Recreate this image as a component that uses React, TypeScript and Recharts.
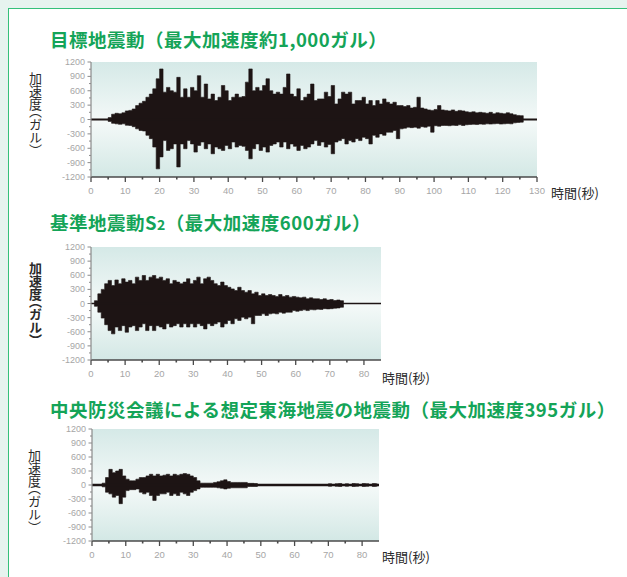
import React from "react";
import { Area, ComposedChart, ReferenceArea, ReferenceLine, XAxis, YAxis } from "recharts";

// acceleration ticks (gal), minor every 150, labelled every 300
const accelTicks = [1200, 1050, 900, 750, 600, 450, 300, 150, 0, -150, -300, -450, -600, -750, -900, -1050, -1200];
const timeTicks130 = Array.from({ length: 27 }, (_, i) => i * 5);
const timeTicks85 = Array.from({ length: 17 }, (_, i) => i * 5);

// 目標地震動: per-second peak (+) and trough (-)
const targetHi = [
  0, 0, 0, 0, 0, 40, 110, 130, 120, 140,
  180, 190, 220, 290, 340, 380, 465, 530, 640, 850,
  1055, 570, 670, 600, 570, 880, 465, 640, 465, 670,
  600, 915, 465, 740, 430, 530, 395, 465, 710, 600,
  395, 465, 530, 465, 480, 780, 1055, 600, 670, 600,
  710, 850, 600, 530, 570, 530, 670, 950, 530, 480,
  640, 395, 465, 530, 740, 395, 430, 430, 570, 480,
  710, 325, 430, 570, 530, 570, 325, 395, 395, 465,
  325, 395, 290, 395, 325, 430, 360, 325, 360, 290,
  290, 270, 290, 240, 255, 465, 240, 220, 200, 190,
  210, 290, 200, 190, 180, 200, 170, 190, 180, 160,
  150, 160, 140, 150, 140, 130, 150, 120, 140, 130,
  120, 140, 120, 100, 85, 80, 0, 0, 0, 0,
];
const targetLo = [
  0, 0, 0, 0, 0, -40, -80, -90, -100, -90,
  -120, -125, -150, -195, -230, -240, -330, -400, -575, -1030,
  -780, -440, -645, -610, -510, -990, -510, -610, -440, -510,
  -680, -540, -470, -610, -510, -715, -575, -610, -645, -540,
  -610, -470, -575, -540, -560, -645, -820, -610, -510, -645,
  -575, -680, -540, -510, -470, -575, -470, -610, -510, -560,
  -645, -540, -610, -575, -510, -440, -540, -470, -575, -520,
  -715, -470, -440, -400, -510, -440, -470, -400, -440, -370,
  -400, -510, -330, -370, -300, -330, -265, -265, -230, -400,
  -195, -180, -160, -170, -160, -180, -150, -160, -140, -265,
  -130, -140, -125, -125, -130, -120, -125, -110, -125, -110,
  -105, -100, -105, -95, -100, -90, -95, -90, -85, -95,
  -90, -85, -90, -70, -60, -55, 0, 0, 0, 0,
];

// 基準地震動S2
const s2Hi = [
  0, 60, 205, 300, 420, 490, 380, 500, 420, 525,
  455, 490, 420, 560, 490, 595, 490, 560, 595, 525,
  560, 490, 525, 420, 490, 455, 420, 455, 525, 420,
  490, 560, 420, 525, 560, 490, 420, 380, 455, 380,
  345, 310, 275, 345, 275, 240, 275, 205, 240, 170,
  205, 170, 190, 170, 150, 190, 150, 170, 135, 150,
  135, 120, 135, 100, 120, 100, 100, 85, 100, 75,
  85, 64, 75, 60, 0, 0, 0, 0, 0, 0,
  0, 0, 0, 0, 0,
];
const s2Lo = [
  0, -60, -185, -310, -450, -575, -645, -500, -575, -470,
  -610, -500, -470, -575, -500, -430, -575, -470, -575, -470,
  -500, -540, -430, -500, -470, -430, -500, -430, -500, -430,
  -500, -430, -470, -540, -430, -470, -430, -395, -500, -430,
  -360, -430, -325, -360, -290, -325, -290, -430, -255, -255,
  -220, -255, -220, -205, -220, -185, -205, -185, -185, -150,
  -165, -150, -135, -150, -130, -135, -120, -125, -110, -115,
  -110, -100, -95, -80, 0, 0, 0, 0, 0, 0,
  0, 0, 0, 0, 0,
];

// 中央防災会議による想定東海地震
const tokaiHi = [
  0, 0, 0, 40, 160, 335, 265, 300, 335, 195,
  125, 90, 90, 125, 160, 160, 195, 230, 195, 230,
  195, 210, 230, 195, 230, 210, 230, 245, 230, 195,
  160, 90, 40, 40, 40, 40, 55, 70, 90, 110,
  75, 55, 55, 55, 55, 55, 35, 35, 30, 0,
  0, 0, 0, 0, 0, 0, 0, 0, 0, 0,
  0, 0, 0, 0, 0, 0, 0, 0, 0, 0,
  25, 0, 25, 30, 0, 25, 0, 30, 25, 0,
  30, 25, 0, 30, 25,
];
const tokaiLo = [
  0, 0, 0, -40, -155, -190, -260, -225, -400, -260,
  -120, -100, -100, -85, -155, -190, -155, -225, -330, -225,
  -190, -190, -155, -225, -190, -225, -155, -190, -225, -155,
  -120, -85, -50, -50, -50, -50, -50, -60, -70, -85,
  -70, -60, -60, -60, -60, -60, -30, -30, -30, 0,
  0, 0, 0, 0, 0, 0, 0, 0, 0, 0,
  0, 0, 0, 0, 0, 0, 0, 0, 0, 0,
  -25, 0, -25, -30, 0, -25, 0, -30, -25, 0,
  -30, -25, 0, -30, -25,
];

const toRows = (hi: number[], lo: number[]) =>
  hi.map((h, i) => ({ t: i + 0.5, r: [lo[i], h] }));

const WAVE = "#1d1414";
const TICK_TEXT = "#a6a6a6";
const JP = '"Noto Sans CJK JP", "Noto Sans", sans-serif';

function TimeTick({ x, y, payload }: any) {
  const major = payload.value % 10 === 0;
  return (
    <g>
      <line x1={x} x2={x} y1={y} y2={y + (major ? 5 : 2.5)} stroke="#4a4a4a" strokeWidth={major ? 1.3 : 1.6} />
      {major && (
        <text x={x} y={y + 17} textAnchor="middle" fill={TICK_TEXT} fontSize={9.5} fontFamily="Liberation Sans, Arial">
          {payload.value}
        </text>
      )}
    </g>
  );
}

function AccelTick({ x, y, payload }: any) {
  const major = payload.value % 300 === 0;
  return (
    <g>
      <line x1={x - (major ? 3.5 : 2)} x2={x} y1={y} y2={y} stroke="#8a8a8a" strokeWidth={1} />
      {major && (
        <text x={x - 6} y={y + 3} textAnchor="end" fill={TICK_TEXT} fontSize={9} fontFamily="Liberation Sans, Arial">
          {payload.value}
        </text>
      )}
    </g>
  );
}

function Seismogram({
  id, rows, width, height, yAxisWidth, right, maxT, ticks, lineWidth,
}: {
  id: string;
  rows: { t: number; r: number[] }[];
  width: number;
  height: number;
  yAxisWidth: number;
  right: number;
  maxT: number;
  ticks: number[];
  lineWidth: number;
}) {
  return (
    <ComposedChart width={width} height={height} data={rows} margin={{ top: 12, right, bottom: 0, left: 0 }}>
      <defs>
        <linearGradient id={id} x1="0" y1="0" x2="0" y2="1">
          <stop offset="0%" stopColor="#d5e9e7" />
          <stop offset="52%" stopColor="#f4f9f8" />
          <stop offset="100%" stopColor="#d3e8e5" />
        </linearGradient>
      </defs>
      <XAxis
        dataKey="t"
        type="number"
        domain={[0, maxT]}
        ticks={ticks}
        interval={0}
        height={25}
        tickSize={0}
        tickMargin={0}
        tick={<TimeTick />}
        axisLine={{ stroke: "#4a4a4a", strokeWidth: 1.5 }}
        allowDataOverflow
      />
      <YAxis
        type="number"
        domain={[-1200, 1200]}
        ticks={accelTicks}
        interval={0}
        width={yAxisWidth}
        tickSize={0}
        tickMargin={0}
        tick={<AccelTick />}
        axisLine={{ stroke: "#8a8a8a", strokeWidth: 1.2 }}
        allowDataOverflow
      />
      <ReferenceArea x1={0} x2={maxT} y1={-1200} y2={1200} fill={`url(#${id})`} fillOpacity={1} stroke="none" />
      <ReferenceLine y={0} stroke={WAVE} strokeWidth={lineWidth} />
      <Area
        dataKey="r"
        type="step"
        fill={WAVE}
        fillOpacity={1}
        stroke={WAVE}
        strokeWidth={0.6}
        dot={false}
        activeDot={false}
        isAnimationActive={false}
      />
    </ComposedChart>
  );
}

const titleStyle: React.CSSProperties = {
  position: "absolute",
  left: 50,
  fontFamily: JP,
  fontWeight: 700,
  fontSize: 18.5,
  lineHeight: "22px",
  color: "#14a458",
  whiteSpace: "nowrap",
  letterSpacing: 0.5,
};

const yLabelStyle: React.CSSProperties = {
  position: "absolute",
  writingMode: "vertical-rl",
  fontFamily: JP,
  fontSize: 13,
  lineHeight: "14px",
  color: "#2a2a2a",
  fontFeatureSettings: '"vhal" 1',
};

const timeLabelStyle: React.CSSProperties = {
  position: "absolute",
  fontFamily: JP,
  fontSize: 13,
  lineHeight: "14px",
  color: "#2a2a2a",
  whiteSpace: "nowrap",
};

export default function App() {
  return (
    <div style={{ position: "fixed", left: 0, top: 0, width: 627, height: 577, overflow: "hidden", background: "#e6f3ef" }}>
      <div
        style={{
          position: "absolute", left: 8, top: 8, width: 640, height: 600,
          background: "#ffffff", border: "1.5px solid #34c07a", boxSizing: "border-box",
        }}
      />

      <div style={{ ...titleStyle, top: 28 }}>目標地震動（最大加速度約1,000ガル）</div>
      <div style={{ ...yLabelStyle, left: 28, top: 72 }}>加速度（ガル）</div>
      <div style={{ position: "absolute", left: 0, top: 50 }}>
        <Seismogram
          id="bg1" rows={toRows(targetHi, targetLo)} width={560} height={152} yAxisWidth={91} right={23}
          maxT={130} ticks={timeTicks130} lineWidth={2}
        />
      </div>
      <div style={{ ...timeLabelStyle, left: 551, top: 186 }}>時間(秒)</div>

      <div style={{ ...titleStyle, top: 211 }}>
        基準地震動S<span style={{ fontSize: 14 }}>2</span>（最大加速度600ガル）
      </div>
      <div style={{ ...yLabelStyle, left: 28, top: 262, fontWeight: 700 }}>加速度（ガル）</div>
      <div style={{ position: "absolute", left: 0, top: 235 }}>
        <Seismogram
          id="bg2" rows={toRows(s2Hi, s2Lo)} width={400} height={150} yAxisWidth={91} right={19}
          maxT={85} ticks={timeTicks85} lineWidth={1.5}
        />
      </div>
      <div style={{ ...timeLabelStyle, left: 382, top: 371 }}>時間(秒)</div>

      <div style={{ ...titleStyle, top: 398 }}>中央防災会議による想定東海地震の地震動（最大加速度395ガル）</div>
      <div style={{ ...yLabelStyle, left: 27, top: 449 }}>加速度（ガル）</div>
      <div style={{ position: "absolute", left: 0, top: 417 }}>
        <Seismogram
          id="bg3" rows={toRows(tokaiHi, tokaiLo)} width={400} height={149} yAxisWidth={92} right={21}
          maxT={85} ticks={timeTicks85} lineWidth={2.5}
        />
      </div>
      <div style={{ ...timeLabelStyle, left: 382, top: 550 }}>時間(秒)</div>
    </div>
  );
}
